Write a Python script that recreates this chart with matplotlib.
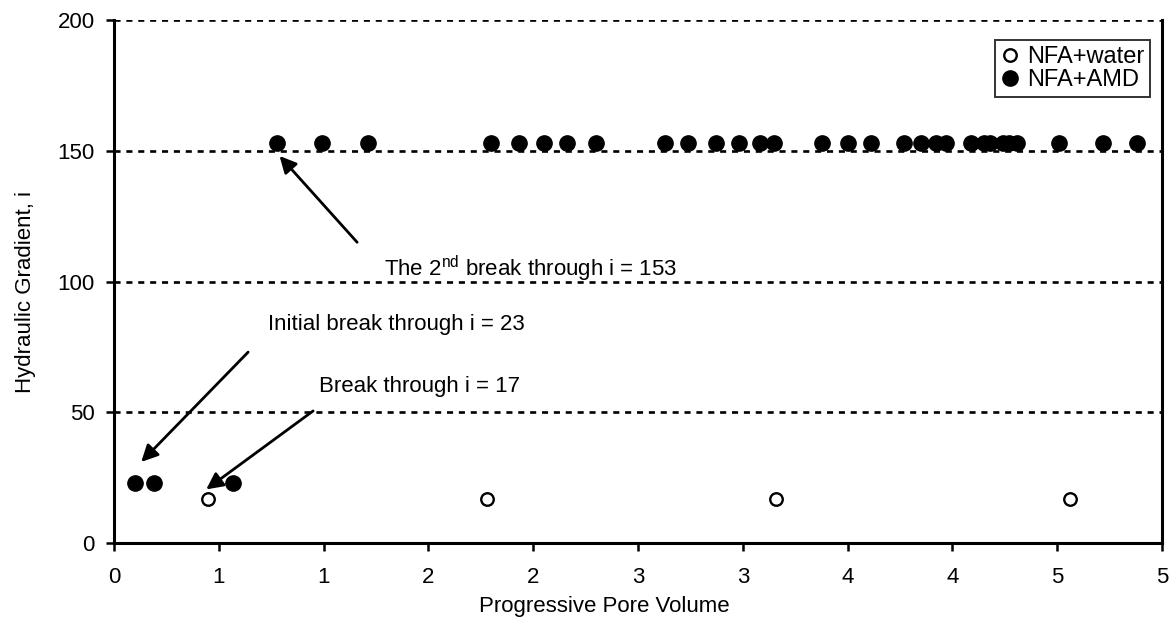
import numpy as np
import matplotlib.pyplot as plt

plt.rcParams['font.family'] = ['Liberation Sans', 'DejaVu Sans']
plt.rcParams['mathtext.fontset'] = 'custom'
plt.rcParams['mathtext.rm'] = 'Liberation Sans'

# NFA+water (hollow)
water_pv = [0.45, 1.78, 3.16, 4.56]
water_i = [17, 17, 17, 17]

# NFA+AMD (filled)
amd_pv = [0.10, 0.19, 0.57,
          0.78, 0.99, 1.21, 1.80, 1.93, 2.05, 2.16, 2.30, 2.63, 2.74, 2.87,
          2.98, 3.08, 3.15, 3.38, 3.50, 3.61, 3.77, 3.85, 3.92, 3.97, 4.09,
          4.15, 4.18, 4.24, 4.27, 4.31, 4.51, 4.72, 4.88]
amd_i = [23, 23, 23] + [153] * 30

xtick_pos = np.arange(0, 5.01, 0.5)
xtick_labels = ['0', '1', '1', '2', '2', '3', '3', '4', '4', '5', '5']
ytick_pos = [0, 50, 100, 150, 200]

fig = plt.figure(figsize=(11.75, 6.34), dpi=100)
ax = fig.add_axes([114/1175, 1 - 543/634, (1162-114)/1175, (543-20)/634])

for y in [50, 100, 150, 200]:
    ax.axhline(y, color='black', lw=1.9, dashes=(2.3, 2.2), zorder=1)

ax.plot(water_pv, water_i, 'o', ms=9, mfc='white', mec='black', mew=1.7,
        label='NFA+water', zorder=3)
ax.plot(amd_pv, amd_i, 'o', ms=11, mfc='black', mec='black',
        label='NFA+AMD', zorder=3)

ax.set_xlim(0, 5)
ax.set_ylim(0, 200)
ax.set_xticks(xtick_pos)
ax.set_xticklabels(xtick_labels)
ax.set_yticks(ytick_pos)
ax.tick_params(direction='out', length=6, width=1.8, labelsize=16)
ax.tick_params(axis='x', pad=11)
ax.tick_params(axis='y', pad=8)

ax.spines['top'].set_visible(False)
for s in ['left', 'bottom', 'right']:
    ax.spines[s].set_linewidth(2.2)

ax.set_xlabel('Progressive Pore Volume', fontsize=16)
ax.set_ylabel('Hydraulic Gradient, i', fontsize=16)
ax.xaxis.set_label_coords(0.468, -0.102)
ax.yaxis.set_label_coords(-0.074, 0.48)

arrow = dict(arrowstyle='-|>', color='black', lw=2, mutation_scale=25,
             shrinkA=0, shrinkB=0)
ax.annotate('', xy=(0.79, 148), xytext=(1.16, 115), arrowprops=arrow)
ax.annotate('', xy=(0.13, 31), xytext=(0.64, 73), arrowprops=arrow)
ax.annotate('', xy=(0.44, 20.5), xytext=(0.95, 50.5), arrowprops=arrow)

ax.text(1.29, 105, r'The 2$^{\mathrm{nd}}$ break through i = 153', fontsize=16,
        va='center', ha='left')
ax.text(0.735, 83.5, 'Initial break through i = 23', fontsize=16,
        va='center', ha='left')
ax.text(0.98, 60, 'Break through i = 17', fontsize=16, va='center', ha='left')

leg = ax.legend(loc='upper right', bbox_to_anchor=(1150/1175, 1 - 40/634),
                bbox_transform=fig.transFigure, fontsize=17, frameon=True,
                fancybox=False, handlelength=0.8, handletextpad=0.3,
                borderpad=0.25, labelspacing=0.05, borderaxespad=0)
leg.get_frame().set_edgecolor('black')
leg.get_frame().set_linewidth(1.4)

fig.savefig('out.png', dpi=100)
